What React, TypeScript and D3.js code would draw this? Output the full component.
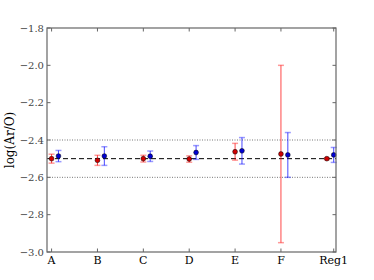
import React, { useRef, useEffect } from 'react';
import * as d3 from 'd3';

const categories = ['A', 'B', 'C', 'D', 'E', 'F', 'Reg1'];
const tickPos = [0, 1, 2, 3, 4, 5, 6.15];
const redY = [-2.5, -2.509, -2.5, -2.502, -2.463, -2.475, -2.5];
const redErr = [0.024, 0.027, 0.018, 0.017, 0.045, 0.475, 0.005];
const blueY = [-2.486, -2.486, -2.487, -2.467, -2.458, -2.48, -2.48];
const blueErr = [0.03, 0.05, 0.028, 0.037, 0.071, 0.12, 0.04];
const blueOffset = 0.15;
const yTicks = [-1.8, -2.0, -2.2, -2.4, -2.6, -2.8, -3.0];
const refLine = -2.5;
const bandLines = [-2.4, -2.6];

function App() {
  const svgRef = useRef<SVGSVGElement>(null);

  useEffect(() => {
    const width = 374;
    const height = 280;
    const margin = { top: 28, right: 38, bottom: 28, left: 47 };
    const font = '"DejaVu Serif", serif';

    const svg = d3.select(svgRef.current);
    svg.selectAll('*').remove();
    svg.attr('width', width).attr('height', height).style('background', '#fff');

    const x = d3.scaleLinear().domain([-0.1, 6.2]).range([margin.left, width - margin.right]);
    const y = d3.scaleLinear().domain([-1.8, -3.0]).range([margin.top, height - margin.bottom]);
    const [x0, x1] = x.range();
    const [y0, y1] = y.range();

    // reference lines
    svg.selectAll('.band')
      .data(bandLines)
      .enter()
      .append('line')
      .attr('x1', x0).attr('x2', x1)
      .attr('y1', d => y(d)).attr('y2', d => y(d))
      .attr('stroke', '#777')
      .attr('stroke-width', 1)
      .attr('stroke-dasharray', '1,1.5');

    svg.append('line')
      .attr('x1', x0).attr('x2', x1)
      .attr('y1', y(refLine)).attr('y2', y(refLine))
      .attr('stroke', '#000')
      .attr('stroke-width', 1)
      .attr('stroke-dasharray', '5,3');

    // series
    const series = [
      { ys: redY, errs: redErr, off: 0, color: '#ff0000', dot: '#d00000' },
      { ys: blueY, errs: blueErr, off: blueOffset, color: '#0000ff', dot: '#0000d0' },
    ];
    series.forEach(s => {
      const g = svg.append('g');
      s.ys.forEach((v, i) => {
        const cx = x(i + s.off);
        const top = y(v + s.errs[i]);
        const bot = y(v - s.errs[i]);
        g.append('line')
          .attr('x1', cx).attr('x2', cx).attr('y1', top).attr('y2', bot)
          .attr('stroke', s.color).attr('stroke-opacity', 0.72).attr('stroke-width', 1);
        [top, bot].forEach(cy => {
          g.append('line')
            .attr('x1', cx - 3).attr('x2', cx + 3).attr('y1', cy).attr('y2', cy)
            .attr('stroke', s.color).attr('stroke-opacity', 0.4).attr('stroke-width', 1.5);
        });
        g.append('circle')
          .attr('cx', cx).attr('cy', y(v)).attr('r', 2.4)
          .attr('fill', s.dot).attr('stroke', '#000').attr('stroke-width', 0.5);
      });
    });

    // frame
    svg.append('rect')
      .attr('x', x0).attr('y', y0)
      .attr('width', x1 - x0).attr('height', y1 - y0)
      .attr('fill', 'none').attr('stroke', '#666').attr('stroke-width', 1.2);

    // ticks (inward, all sides)
    const tl = 3.5;
    tickPos.forEach((p, i) => {
      const px = x(p);
      svg.append('line').attr('x1', px).attr('x2', px).attr('y1', y1).attr('y2', y1 - tl).attr('stroke', '#666');
      svg.append('line').attr('x1', px).attr('x2', px).attr('y1', y0).attr('y2', y0 + tl).attr('stroke', '#666');
      svg.append('text')
        .attr('x', px).attr('y', y1 + 11.5)
        .attr('text-anchor', 'middle')
        .attr('font-family', font).attr('font-size', 11)
        .attr('fill', '#000')
        .text(categories[i]);
    });
    yTicks.forEach(t => {
      const py = y(t);
      svg.append('line').attr('x1', x0).attr('x2', x0 + tl).attr('y1', py).attr('y2', py).attr('stroke', '#666');
      svg.append('line').attr('x1', x1).attr('x2', x1 - tl).attr('y1', py).attr('y2', py).attr('stroke', '#666');
      svg.append('text')
        .attr('x', x0 - 3).attr('y', py)
        .attr('dy', '0.35em')
        .attr('text-anchor', 'end')
        .attr('font-family', font).attr('font-size', 10)
        .attr('fill', '#444')
        .text(d3.format('.1f')(t).replace('-', '\u2212'));
    });

    // y label
    svg.append('text')
      .attr('transform', `translate(14,${(y0 + y1) / 2}) rotate(-90)`)
      .attr('text-anchor', 'middle')
      .attr('font-family', font).attr('font-size', 12)
      .attr('fill', '#000')
      .text('log(Ar/O)');
  }, []);

  return <svg ref={svgRef} style={{ position: 'absolute', left: 0, top: 0, display: 'block' }} />;
}

export default App;
